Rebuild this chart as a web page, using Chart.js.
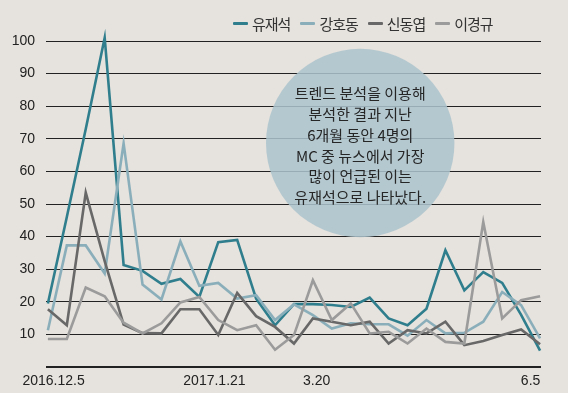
<!DOCTYPE html>
<html>
<head>
<meta charset="utf-8">
<script src="https://cdn.jsdelivr.net/npm/chart.js@4.4.1/dist/chart.umd.min.js"></script>
<style>
    html, body { margin: 0; padding: 0; background: #e6e2dd; overflow: hidden; }
    #wrap { position: relative; width: 568px; height: 393px; }
    #trendChart { display: block; }
    #legend {
        position: absolute; top: 13px; left: 233px;
        display: flex; align-items: center;
        font-family: "Noto Sans CJK KR", sans-serif; font-size: 15px; color: #333;
        letter-spacing: -1px;
    }
    #legend .item { display: flex; align-items: center; margin-right: 10px; }
    #legend .mark { display: inline-block; width: 15px; height: 3px; margin-right: 4px; border-radius: 1px; }
    /* zero line: sits on top of the 26px x-axis band */
    #baseline { position: absolute; left: 46px; right: 27px; bottom: 26px; height: 1px; background: #222; }
</style>
</head>
<body>
<div id="wrap">
    <canvas id="trendChart" width="568" height="393"></canvas>
    <div id="legend"></div>
    <div id="baseline"></div>
</div>
<script>
// weekly mention counts, 2016.12.5 ~ 2017.6.5
const names = ['유재석', '강호동', '신동엽', '이경규'];
const yoo = [19.5, 46, 73, 101, 31.3, 29.5, 25.5, 27, 21.5, 38.3, 39, 21, 12.8, 19.3, 19.3, 19, 18.4, 21.3, 14.9, 12.8, 17.9, 35.8, 23.5, 29.1, 25.8, 16, 5];
const kang = [11.3, 37.3, 37.3, 28.7, 68.6, 25.3, 20.7, 38.5, 24.9, 25.8, 21, 22, 14.4, 19.2, 15.9, 11.8, 13.4, 13.1, 13.1, 9.6, 14.4, 10.3, 10.5, 13.9, 23, 19, 8.8];
const shin = [17.7, 12.8, 53.5, 32.5, 13, 10.4, 10.3, 17.7, 17.7, 9.8, 22.7, 15.6, 12.3, 7.2, 14.9, 13.9, 12.8, 13.9, 7.2, 11.3, 10.3, 13.9, 6.7, 8, 9.8, 11.5, 7];
const lee = [8.6, 8.6, 24.4, 21.7, 13.6, 10.3, 13.4, 19.8, 21.5, 14.4, 11.3, 12.8, 5.3, 9.8, 26.6, 14.4, 19.5, 10.3, 10.8, 7.2, 11.8, 7.7, 7.2, 44.5, 14.9, 20.5, 21.7];

const xTickLabels = ['2016.12.5', '2017.1.21', '3.20', '6.5'];
const xTickAt = [0.3, 8.8, 14.2, 25.5];
const yMax = 100;
const yStep = 10;

const colors = ['#2f7e8d', '#8aafbb', '#686868', '#9b9b9b'];
const noteLines = ['트렌드 분석을 이용해', '분석한 결과 지난', '6개월 동안 4명의', 'MC 중 뉴스에서 가장', '많이 언급된 이는', '유재석으로 나타났다.'];

const seriesData = [yoo, kang, shin, lee];

// html legend
const legendEl = document.getElementById('legend');
names.forEach((n, i) => {
    const item = document.createElement('div');
    item.className = 'item';
    item.innerHTML = '<span class="mark" style="background:' + colors[i] + '"></span><span>' + n + '</span>';
    legendEl.appendChild(item);
});

// the round note box
const noteCircle = {
    id: 'noteCircle',
    beforeDatasetsDraw(chart) {
        const ctx = chart.ctx;
        const x = chart.scales.x, y = chart.scales.y;
        const area = chart.chartArea;
        const cx = x.getPixelForValue(16.5);
        const cy = y.getPixelForValue(68.7);
        const r = (area.bottom - area.top) * 0.289;
        ctx.save();
        ctx.beginPath();
        ctx.arc(cx, cy, r, 0, Math.PI * 2);
        ctx.fillStyle = 'rgba(171, 196, 205, 0.86)';
        ctx.fill();
        ctx.fillStyle = '#262626';
        ctx.font = '15px "Noto Sans CJK KR"';
        ctx.textAlign = 'center';
        ctx.textBaseline = 'middle';
        noteLines.forEach((t, k) => {
            ctx.fillText(t, cx, cy + 2.5 + (k - 2.5) * 20.8);
        });
        ctx.restore();
    }
};

new Chart(document.getElementById('trendChart').getContext('2d'), {
    type: 'line',
    data: {
        datasets: seriesData.map((arr, i) => ({
            label: names[i],
            data: arr.map((v, k) => ({ x: k, y: v })),
            borderColor: colors[i],
            borderWidth: 2.6,
            borderJoinStyle: 'miter',
            pointRadius: 0,
            tension: 0,
            clip: false,
            order: names.length - i
        }))
    },
    options: {
        responsive: false,
        animation: false,
        layout: { padding: { top: 41, right: 27, bottom: 0, left: 0 } },
        plugins: {
            legend: { display: false },
            tooltip: { enabled: false }
        },
        scales: {
            x: {
                type: 'linear',
                min: -0.1,
                max: 26.05,
                grid: { display: false, drawTicks: false },
                border: { display: false },
                afterBuildTicks: function(scale) {
                    scale.ticks = xTickAt.map(v => ({ value: v }));
                },
                afterFit: function(scale) { scale.height = 26; },
                ticks: {
                    autoSkip: false,
                    maxRotation: 0,
                    padding: 6,
                    color: '#222',
                    font: { family: 'Liberation Sans', size: 14 },
                    callback: function(v, i) { return xTickLabels[i]; }
                }
            },
            y: {
                min: 0,
                max: yMax,
                grid: { color: '#222', lineWidth: 1, drawTicks: false },
                border: { display: false },
                afterFit: function(scale) { scale.width = 46; },
                ticks: {
                    stepSize: yStep,
                    padding: 11,
                    color: ctx => ctx.tick.value === 0 ? 'rgba(0,0,0,0)' : '#222',
                    font: { family: 'Liberation Sans', size: 14 }
                }
            }
        }
    },
    plugins: [noteCircle]
});
</script>
</body>
</html>
